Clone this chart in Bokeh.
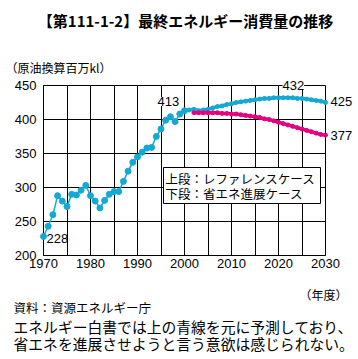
from bokeh.plotting import figure
from bokeh.models import Range1d, FixedTicker, Label, BoxAnnotation
from bokeh.embed import file_html
from bokeh.resources import INLINE

# ---- data ----
hist_years = list(range(1970, 2001))
hist_vals = [228, 243, 260, 288, 280, 272, 290, 289, 296, 303,
             288, 280, 270, 281, 290, 294, 294, 309, 324, 337,
             345, 352, 358, 359, 375, 386, 399, 404, 397, 408, 413]
ref_years = list(range(2000, 2031))
ref_vals = [413, 414, 415, 413, 414, 415, 417, 419, 420, 422,
            423, 425, 426, 427, 428, 429, 430, 431, 431, 432,
            432, 432, 432, 432, 431, 431, 430, 429, 428, 427, 425]
save_years = list(range(2002, 2031))
save_vals = [410, 410, 410, 410, 410, 410, 409, 409, 408, 408,
             407, 406, 405, 404, 403, 401, 400, 398, 396, 394,
             392, 390, 388, 386, 384, 382, 380, 378, 377]
x_ticks = [1970, 1980, 1990, 2000, 2010, 2020, 2030]
x_minor = [1975, 1985, 1995, 2005, 2015, 2025]
y_ticks = [200, 250, 300, 350, 400, 450]

BLUE = "#14a9d3"
PINK = "#e5007f"
JP = "Noto Sans CJK JP"
NUM = "Liberation Sans"

# layout constants (canvas W x H, chart box at canvas x 43..325, y 85..255)
W, H = 356, 356
BX0, BX1, BY0, BY1 = 43, 325, 85, 255
X0, X1 = 1970, 2030
Y0, Y1 = 200, 450
kx = (BX1 - BX0) / (X1 - X0)
ky = (BY1 - BY0) / (Y1 - Y0)

p = figure(width=W, height=H, output_backend="svg", toolbar_location=None,
           x_range=Range1d(X0 - BX0 / kx, X1 + (W - BX1) / kx),
           y_range=Range1d(Y0 - (H - BY1) / ky, Y1 + BY0 / ky),
           min_border=0)
p.min_border_left = p.min_border_right = p.min_border_top = p.min_border_bottom = 0
p.background_fill_color = "white"
p.border_fill_color = "white"
p.outline_line_color = None
p.xgrid.visible = False
p.ygrid.visible = False

# axes pinned to the chart box; long inward ticks form the grid
xa = p.xaxis[0]
ya = p.yaxis[0]
xa.fixed_location = Y0
ya.fixed_location = X0
xa.bounds = (X0, X1)
ya.bounds = (Y0, Y1)
xa.ticker = FixedTicker(ticks=x_ticks, minor_ticks=x_minor)
ya.ticker = FixedTicker(ticks=y_ticks)
for ax in (xa, ya):
    ax.level = "underlay"
    ax.axis_line_color = "black"
    ax.axis_line_width = 1
    ax.major_tick_line_color = "black"
    ax.major_tick_line_width = 1
    ax.major_tick_out = 0
    ax.major_label_text_font = NUM
    ax.major_label_text_font_size = "13px"
    ax.major_label_text_color = "black"
xa.major_tick_in = BY1 - BY0
xa.minor_tick_in = BY1 - BY0
xa.minor_tick_out = 0
xa.minor_tick_line_color = "black"
xa.minor_tick_line_width = 1
ya.major_tick_in = BX1 - BX0
ya.minor_tick_line_color = None
ya.major_label_standoff = 7
xa.major_label_standoff = 3

# lines
p.line(hist_years, hist_vals, line_color=BLUE, line_width=1.5)
p.scatter(hist_years, hist_vals, size=6, fill_color=BLUE, line_color=BLUE)
p.line(ref_years, ref_vals, line_color=BLUE, line_width=3.5)
p.scatter(ref_years, ref_vals, size=4, fill_color=BLUE, line_color=BLUE)
p.line(save_years, save_vals, line_color=PINK, line_width=3.5)
p.scatter(save_years, save_vals, size=4, fill_color=PINK, line_color=PINK)


def dx(px):
    return X0 + (px - BX0) / kx


def dy(py):
    return Y0 + (BY1 - py) / ky


def lab(px, py, text, size="13px", font=NUM, align="left", bold=False, bg=None):
    l = Label(x=dx(px), y=dy(py), text=text, text_font=font, text_font_size=size,
              text_align=align, text_baseline="middle", text_color="black",
              text_font_style="bold" if bold else "normal")
    if bg:
        l.background_fill_color = bg
        l.background_fill_alpha = 1
    p.add_layout(l)


# value labels
lab(46, 238, "228")
lab(157, 101, "413", bg="white")
lab(282, 85, "432", bg="white")
lab(330, 101, "425")
lab(330, 135, "377")

# legend box
p.add_layout(BoxAnnotation(left=dx(163), right=dx(320), top=dy(167), bottom=dy(203),
                           fill_color="white", fill_alpha=1, line_color="black",
                           line_width=1, line_alpha=1))
lab(165, 178, "上段：レファレンスケース", size="12.5px", font=JP)
lab(165, 193, "下段：省エネ進展ケース", size="12.5px", font=JP)

# outside texts
lab(185, 20, "【第111-1-2】最終エネルギー消費量の推移", size="15px", font=JP,
    align="center", bold=True)
lab(5, 67, "（原油換算百万kl）", size="12px", font=JP)
lab(347, 294, "（年度）", size="12px", font=JP, align="right")
lab(13, 307, "資料：資源エネルギー庁", size="12.5px", font=JP)
lab(13, 326, "エネルギー白書では上の青線を元に予測しており、", size="14.8px", font=JP)
lab(13, 342.5, "省エネを進展させようと言う意欲は感じられない。", size="14.8px", font=JP)

open("out.html", "w").write(file_html(p, INLINE))
